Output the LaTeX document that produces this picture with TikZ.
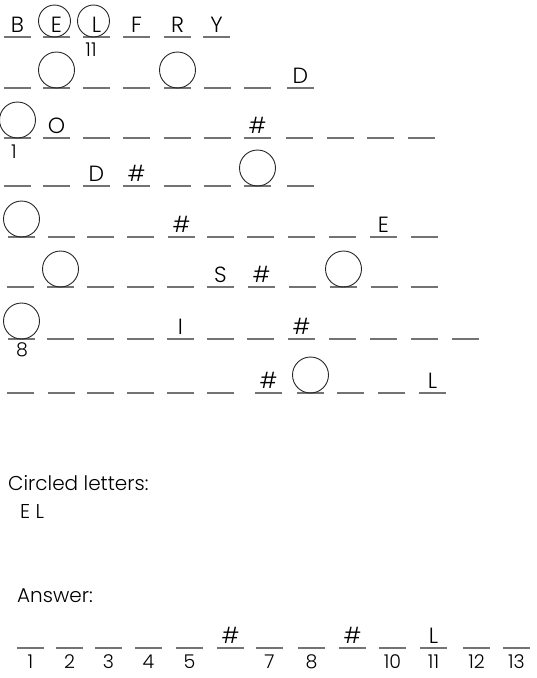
\documentclass[tikz,border=0pt]{standalone}
\usepackage{fontspec}
\setmainfont{Poppins}[UprightFont=* Light]
\usetikzlibrary{calc}

\tikzset{
	blank/.style={draw=black!55, line width=1.4pt},
	lett/.style={font=\fontsize{22}{22}\selectfont, anchor=base, inner sep=0pt},
	num/.style={font=\fontsize{19}{19}\selectfont, anchor=north, inner sep=0pt},
	capt/.style={font=\fontsize{20}{20}\selectfont, anchor=base west, inner sep=0pt},
	ring/.style={draw=black!85, line width=.9pt},
}

\begin{document}
\begin{tikzpicture}[x=1pt, y=-1pt]
	\useasboundingbox (0,0) rectangle (537,678);

	% grid: y of the line / row name / x of each blank and its letter
	\foreach \y/\r/\row in {
		37/a/{4/B,43/E,83/L,123/F,164/R,203/Y},
		88/b/{4/{},43/{},83/{},123/{},164/{},204/{},244/{},287/D},
		138/c/{4/{},43/O,83/{},123/{},164/{},204/{},244/\#,286/{},327/{},367/{},408/{}},
		186/d/{4/{},43/{},83/D,123/\#,164/{},204/{},244/{},287/{}},
		237/e/{8/{},48/{},87/{},127/{},168/\#,207/{},247/{},288/{},329/{},370/E,411/{}},
		287/f/{7/{},47/{},87/{},127/{},167/{},207/S,248/\#,289/{},330/{},371/{},411/{}},
		339/g/{8/{},47/{},87/{},127/{},167/I,207/{},247/{},288/\#,329/{},370/{},411/{},452/{}},
		393/h/{7/{},48/{},87/{},127/{},167/{},207/{},255/\#,297/{},337/{},378/{},419/L}}
		\foreach \x/\t [count=\i] in \row
			\draw[blank] (\x,\y) -- ++(27,0) (\x+13.5,\y-5) node[lett] (\r\i) {\t};

	\draw[ring] (a2.base) ++(-2,-11) circle (16pt);
	\draw[ring] (a3.base) ++(-3,-11) circle (16pt);
	\foreach \n in {b2,b5,c1,d7,e1,f2,f9,g1,h8}
		\draw[ring] (\n.base) ++(0,-13) circle (18pt);

	\node[num] (n11) at (91,43) {11};
	\node[num] (n1) at (14,145) {1};
	\node[num] (n8) at (22,342) {8};

	\node[capt] (circled) at (8,490) {Circled letters:};
	\node[capt] (found) at (20,518) {E L};
	\node[capt] (answer) at (17,602) {Answer:};

	% answer row
	\foreach \x/\t/\n [count=\i] in {17/{}/1,56/{}/2,95/{}/3,135/{}/4,176/{}/5,217/\#/{},256/{}/7,298/{}/8,339/\#/{},379/{}/10,420/L/11,463/{}/12,503/{}/13}
		\draw[blank] (\x,648) -- ++(27,0) (\x+13.5,643) node[lett] (s\i) {\t} (\x+13.5,654) node[num] (m\i) {\n};

\end{tikzpicture}
\end{document}
